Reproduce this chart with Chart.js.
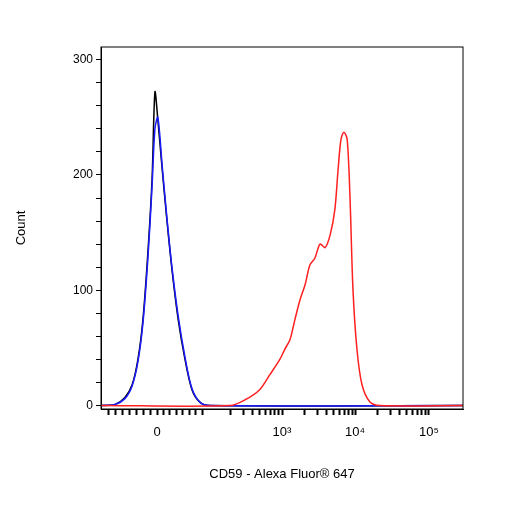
<!DOCTYPE html>
<html><head><meta charset="utf-8">
<script src="https://cdn.jsdelivr.net/npm/chart.js@4"></script>
<style>html,body{margin:0;background:#fff}#wrap{width:506px;height:506px}</style>
</head><body><div id="wrap"><canvas id="c" width="506" height="506"></canvas></div>
<script>
// x is in display units of the biexponential axis (0..1000)
const blackX = [0,39,66,86,102,116,130,141,149,157,169,182,196,213,232,251,273,301,1000];
const blackY = [0,1,7,18,40,75,135,196,272,248,205,161,118,75,40,14,3,0,0];
const blueX = [0,39,66,86,102,116,130,141,149,157,169,182,196,213,232,251,273,301,1000];
const blueY = [0,1,6,17,38,72,130,190,240,250,208,163,120,78,42,15,3,0,0];
const redX = [0,356,398,439,467,494,508,522,536,550,564,577,591,605,619,633,646,655,663,671,680,688,696,707,721,743,771,1000];
const redY = [0,0,5,14,27,40,49,57,75,92,105,122,128,140,137,148,170,205,231,237,231,179,101,49,18,3,0,0];
const majorX = [155,500,702,906];
const majorLabels = ['0','10³','10⁴','10⁵'];
const yTicks = [0,100,200,300];

const pts = (xs, ys) => xs.map((x, i) => ({x, y: ys[i]}));
const minorX = [];
[[0,155],[155,297]].forEach(([a,b]) => { for (let i=1;i<8;i++) minorX.push(a+(b-a)*i/8); });
[297,500,702].forEach(d => { for (let k=2;k<10;k++) minorX.push(d+203*Math.log10(k)); });
const ds = (data, color) => ({data, borderColor: color, borderWidth: 1.5, pointRadius: 0, tension: 0.3, fill: false});

new Chart(document.getElementById('c'), {
  type: 'line',
  data: {datasets: [ds(pts(redX, redY), '#ff2020'), ds(pts(blueX, blueY), '#1a1aff'), ds(pts(blackX, blackY), '#000')]},
  options: {
    responsive: false, animation: false,
    layout: {padding: {top: 47, right: 43, left: 10, bottom: 20}},
    plugins: {legend: {display: false}, tooltip: {enabled: false}},
    scales: {
      x: {
        type: 'linear', min: 0, max: 1000,
        afterBuildTicks: s => { s.ticks = majorX.concat(minorX).map(v => ({value: v})); },
        afterFit: s => { s.height = 77; },
        ticks: {autoSkip: false, maxRotation: 0, color: '#000', font: {family: 'Liberation Sans', size: 13}, padding: 10,
          callback: v => { const i = majorX.indexOf(v); return i >= 0 ? majorLabels[i] : ''; }},
        grid: {drawOnChartArea: false, tickLength: 6, tickColor: '#000', tickWidth: 2},
        border: {color: '#000'},
        title: {display: true, text: 'CD59 - Alexa Fluor® 647', color: '#000', font: {family: 'Liberation Sans', size: 13}, padding: {top: 0}}
      },
      y: {
        min: -3, max: 311,
        afterBuildTicks: s => { const t = []; for (let v=0; v<=300; v+=20) t.push({value: v}); s.ticks = t; },
        afterFit: s => { s.width = 91; },
        ticks: {autoSkip: false, color: '#000', font: {family: 'Liberation Sans', size: 12},
          callback: v => yTicks.includes(v) ? String(v) : ''},
        grid: {drawOnChartArea: false, tickLength: 5, tickColor: '#000'},
        border: {color: '#000'},
        title: {display: true, text: 'Count', color: '#000', font: {family: 'Liberation Sans', size: 13}, padding: {bottom: 30}}
      }
    }
  },
  plugins: [{id: 'frame', afterDraw(c) {
    const a = c.chartArea, g = c.ctx;
    g.save(); g.strokeStyle = '#000'; g.lineWidth = 1;
    g.strokeRect(a.left, a.top, a.right - a.left, a.bottom - a.top); g.restore();
  }}]
});
</script></body></html>
